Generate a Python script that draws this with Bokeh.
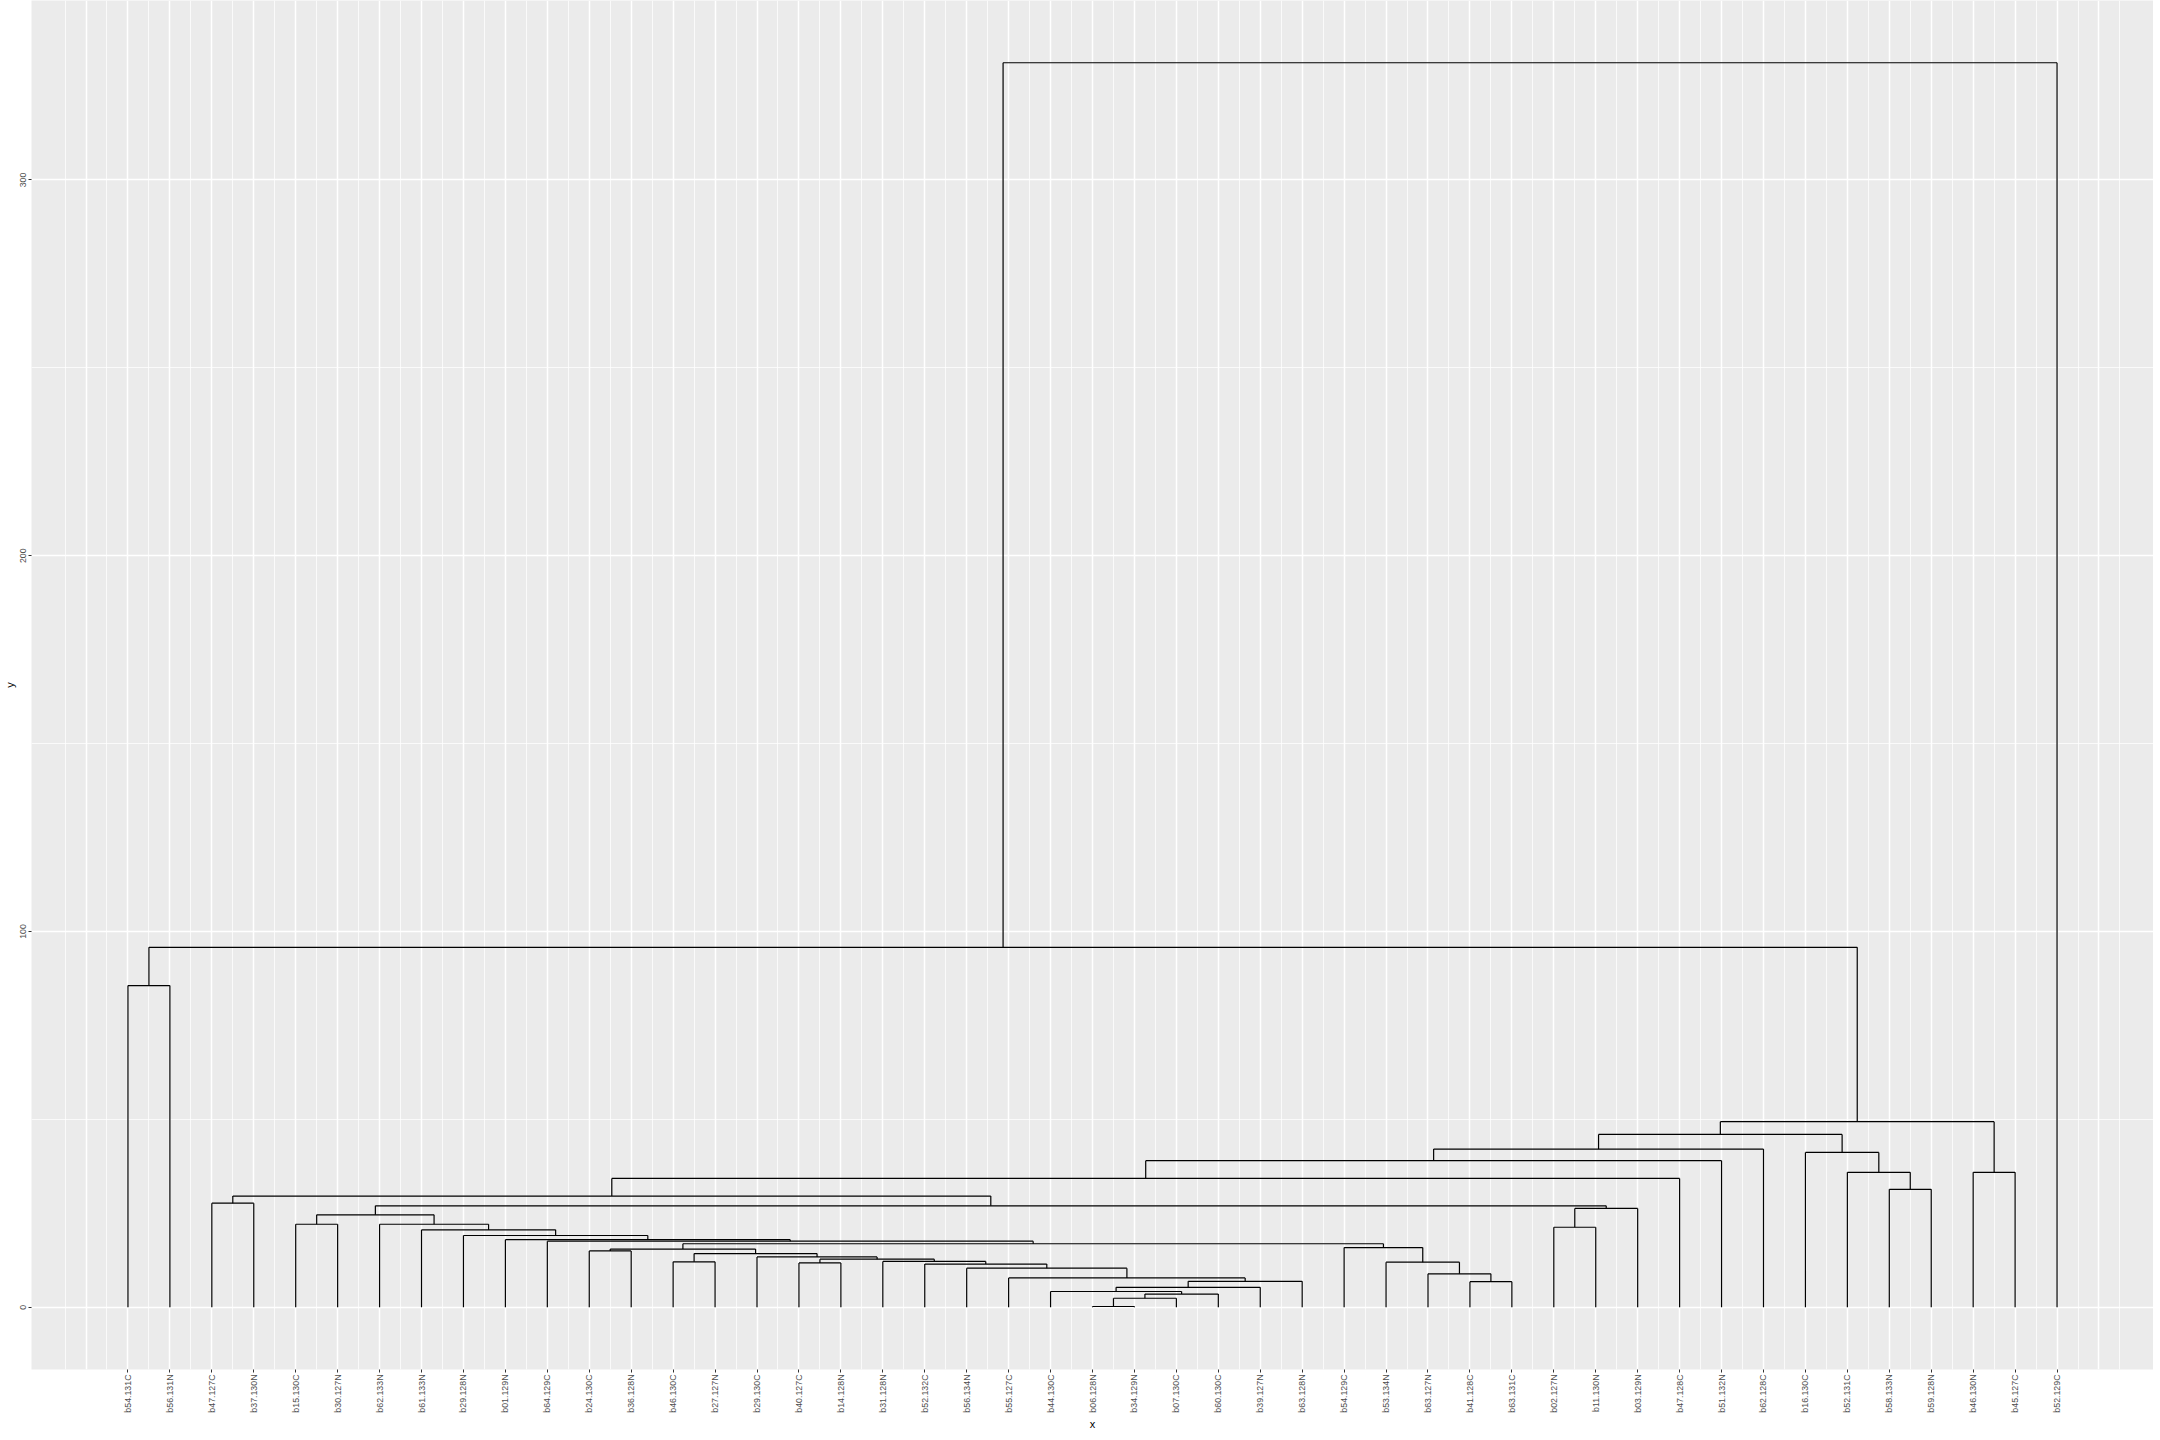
import math
from bokeh.plotting import figure
from bokeh.models import Range1d, FixedTicker
from bokeh.embed import file_html
from bokeh.resources import INLINE

# leaf labels in dendrogram order (x = 1..47)
leaf_labels = [
    "b54.131C", "b56.131N", "b47.127C", "b37.130N", "b15.130C", "b30.127N",
    "b62.133N", "b61.133N", "b29.128N", "b01.129N", "b64.129C", "b24.130C",
    "b36.128N", "b46.130C", "b27.127N", "b29.130C", "b40.127C", "b14.128N",
    "b31.128N", "b52.132C", "b56.134N", "b55.127C", "b44.130C", "b06.128N",
    "b34.129N", "b07.130C", "b60.130C", "b39.127N", "b63.128N", "b54.129C",
    "b53.134N", "b63.127N", "b41.128C", "b63.131C", "b02.127N", "b11.130N",
    "b03.129N", "b47.128C", "b51.132N", "b62.128C", "b16.130C", "b52.131C",
    "b58.133N", "b59.128N", "b46.130N", "b45.127C", "b52.129C",
]

# hclust-style merge table: negative = leaf position, positive = earlier merge row
merge_left = [-24, 1, 2, -23, 4, -33, 5, -22, -32, -21, -20, -17, -31, -14, -19,
              12, -16, 14, -12, 19, -30, 20, -11, -10, -9, -8, -35, -5, -7, 28,
              27, 30, -3, 33, -43, 34, -42, -45, 36, -41, 39, 41, 42, -1, 44, 45]
merge_right = [-25, -26, -27, 3, -28, -34, -29, 7, 6, 8, 10, -18, 9, -15, 11,
               15, 16, 17, -13, 18, 13, 21, 22, 23, 24, 25, -36, -6, 26, 29,
               -37, 31, -4, 32, -44, -38, 35, -46, -39, 37, -40, 40, 38, -2, 43, -47]
merge_height = [0.2, 2.4, 3.5, 4.2, 5.3, 6.8, 6.9, 7.8, 8.9, 10.4, 11.5, 11.8, 12.0,
                12.1, 12.2, 12.8, 13.4, 14.3, 15.0, 15.5, 15.9, 16.9, 17.6, 18.0,
                19.1, 20.6, 21.3, 22.1, 22.1, 24.6, 26.3, 27.0, 27.7, 29.6, 31.4,
                34.3, 35.9, 35.9, 39.0, 41.2, 42.1, 46.0, 49.4, 85.6, 95.8, 331.2]

y_major = [0, 100, 200, 300]
y_minor = [50, 150, 250]

n = len(leaf_labels)
pos = {}


def node(ref):
    if ref < 0:
        return float(-ref), 0.0
    return pos[ref]


x0, y0, x1, y1 = [], [], [], []
for k, (a, b, h) in enumerate(zip(merge_left, merge_right, merge_height), start=1):
    xa, ha = node(a)
    xb, hb = node(b)
    x0 += [xa, xa, xb]
    y0 += [h, ha, hb]
    x1 += [xb, xa, xb]
    y1 += [h, h, h]
    pos[k] = ((xa + xb) / 2.0, h)

ymax = max(merge_height)
xpad = (n - 1) * 0.05
ypad = ymax * 0.05

p = figure(frame_width=2122, frame_height=1369, output_backend="svg", toolbar_location=None,
           x_range=Range1d(1 - xpad, n + xpad), y_range=Range1d(-ypad, ymax + ypad),
           min_border_top=0, min_border_right=0, min_border_left=0, min_border_bottom=0)

p.background_fill_color = "#EBEBEB"
p.border_fill_color = "white"
p.outline_line_color = None

p.segment(x0=x0, y0=y0, x1=x1, y1=y1, line_color="black", line_width=1.2)

# grids
xt = list(range(0, n + 2))
p.xgrid.ticker = FixedTicker(ticks=xt, minor_ticks=[t + 0.5 for t in range(-2, n + 2)])
p.ygrid.ticker = FixedTicker(ticks=y_major, minor_ticks=y_minor)
for g in (p.xgrid, p.ygrid):
    g.grid_line_color = "white"
    g.grid_line_width = 1.5
    g.minor_grid_line_color = "white"
    g.minor_grid_line_width = 0.75

# axes
p.xaxis.ticker = FixedTicker(ticks=list(range(1, n + 1)))
p.xaxis.major_label_overrides = {i + 1: lab for i, lab in enumerate(leaf_labels)}
p.yaxis.ticker = FixedTicker(ticks=y_major)
for ax in (p.xaxis, p.yaxis):
    ax.axis_line_color = None
    ax.major_tick_in = 0
    ax.major_tick_out = 3
    ax.major_tick_line_color = "#333333"
    ax.minor_tick_line_color = None
    ax.major_label_text_font = "Liberation Sans"
    ax.major_label_text_font_size = "8.8px"
    ax.major_label_text_color = "#4D4D4D"
    ax.major_label_standoff = 2
    ax.axis_label_text_font = "Liberation Sans"
    ax.axis_label_text_font_size = "11px"
    ax.axis_label_text_font_style = "normal"
    ax.axis_label_text_color = "black"
    ax.axis_label_standoff = 2
p.xaxis.major_label_orientation = math.pi / 2
p.yaxis.major_label_orientation = "parallel"
p.xaxis.axis_label = "x"
p.yaxis.axis_label = "y"

open("out.html", "w").write(file_html(p, INLINE))
